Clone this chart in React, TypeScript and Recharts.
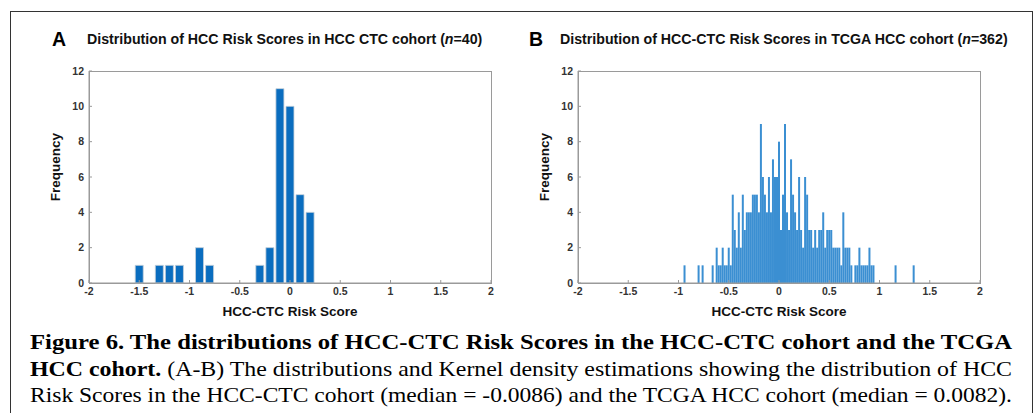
import React from "react";
import { BarChart, Bar, XAxis, YAxis } from "recharts";

const xTicks = [-2, -1.5, -1, -0.5, 0, 0.5, 1, 1.5, 2];
const yTicks = [0, 2, 4, 6, 8, 10, 12];

// A: HCC CTC cohort, bin centres (width 0.1) and counts
const ctcBins = [-1.5, -1.4, -1.3, -1.2, -1.1, -1.0, -0.9, -0.8, -0.7, -0.6, -0.5, -0.4, -0.3, -0.2, -0.1, 0, 0.1, 0.2];
const ctcCounts = [1, 0, 1, 1, 1, 0, 2, 1, 0, 0, 0, 0, 1, 2, 11, 10, 5, 4];

// B: TCGA HCC cohort, bin centres (width 0.02) and counts
const tcgaBins = [
  -0.94, -0.8, -0.76, -0.66,
  -0.62, -0.6, -0.58, -0.56, -0.54, -0.52, -0.5, -0.48, -0.46, -0.44, -0.42, -0.4, -0.38, -0.36, -0.34, -0.32,
  -0.3, -0.28, -0.26, -0.24, -0.22, -0.2, -0.18, -0.16, -0.14, -0.12, -0.1, -0.08, -0.06, -0.04, -0.02,
  0, 0.02, 0.04, 0.06, 0.08, 0.1, 0.12, 0.14, 0.16, 0.18, 0.2, 0.22, 0.24, 0.26, 0.28,
  0.3, 0.32, 0.34, 0.36, 0.38, 0.4, 0.42, 0.44, 0.46, 0.48, 0.5, 0.52, 0.54, 0.56, 0.58,
  0.6, 0.62, 0.64, 0.66, 0.68, 0.7, 0.72, 0.76, 0.78, 0.8, 0.82, 0.84, 0.86, 0.88, 0.9, 0.92, 0.94,
  1.16, 1.34,
];
const tcgaCounts = [
  1, 1, 1, 1,
  2, 1, 1, 2, 1, 1, 2, 1, 5, 3, 2, 4, 2, 5, 3, 4,
  4, 4, 5, 5, 5, 4, 9, 6, 5, 4, 6, 4, 7, 6, 6,
  8, 3, 5, 9, 4, 3, 7, 5, 4, 3, 6, 3, 2, 6, 5,
  3, 3, 2, 3, 2, 3, 3, 4, 2, 3, 3, 3, 2, 2, 2,
  2, 1, 4, 2, 2, 2, 1, 1, 1, 2, 1, 1, 1, 1, 2, 1, 1,
  1, 1,
];

const ctcData = ctcBins.map((x, i) => ({ x, count: ctcCounts[i] }));
const tcgaData = tcgaBins.map((x, i) => ({ x, count: tcgaCounts[i] }));

const sans = "'Liberation Sans', Arial, sans-serif";
const serif = "'Liberation Serif', 'Times New Roman', serif";
const axisColor = "#9a9a9a";
const tickStyle = { fill: "#333", fontSize: 10.5, fontWeight: 700, fontFamily: sans };

// chart geometry (per panel)
const chartW = 470;
const chartH = 260;
const margin = { top: 11, right: 19, bottom: 17, left: 0 };
const yAxisW = 49;
const xAxisH = 20;

type PanelProps = {
  left: number;
  letterX: number;
  titleX: number;
  letter: string;
  title: string;
  n: number;
  data: { x: number; count: number }[];
  barSize: number;
  fill: string;
  stroke?: string;
};

function Panel({ left, letterX, titleX, letter, title, n, data, barSize, fill, stroke }: PanelProps) {
  const top = 60;
  const plotW = chartW - margin.left - margin.right - yAxisW;
  const plotH = chartH - margin.top - margin.bottom - xAxisH;
  return (
    <>
      <div
        style={{
          position: "absolute",
          left: letterX,
          top: 29,
          fontFamily: sans,
          fontWeight: 700,
          fontSize: 19.5,
          lineHeight: "20px",
        }}
      >
        {letter}
      </div>
      <div
        style={{
          position: "absolute",
          left: titleX,
          top: 31,
          fontFamily: sans,
          fontWeight: 700,
          fontSize: 14.2,
          lineHeight: "16px",
          whiteSpace: "nowrap",
          color: "#111",
        }}
      >
        {title} (<i>n</i>={n})
      </div>
      <div
        style={{
          position: "absolute",
          left: left + 15,
          top: 167,
          transform: "translate(-50%, -50%) rotate(-90deg)",
          fontFamily: sans,
          fontWeight: 700,
          fontSize: 13.5,
          color: "#111",
          whiteSpace: "nowrap",
        }}
      >
        Frequency
      </div>
      <div
        style={{
          position: "absolute",
          left: left + 250,
          top: 311,
          transform: "translate(-50%, -50%)",
          fontFamily: sans,
          fontWeight: 700,
          fontSize: 13.5,
          color: "#111",
          whiteSpace: "nowrap",
        }}
      >
        HCC-CTC Risk Score
      </div>
      {/* axes box */}
      <div
        style={{
          position: "absolute",
          left: left + margin.left + yAxisW - 0.5,
          top: top + margin.top - 0.5,
          width: plotW + 1,
          height: plotH + 1,
          border: `1px solid ${axisColor}`,
          boxSizing: "border-box",
        }}
      />
      <div style={{ position: "absolute", left, top }}>
        <BarChart width={chartW} height={chartH} data={data} margin={margin}>
          <XAxis
            dataKey="x"
            type="number"
            domain={[-2, 2]}
            ticks={xTicks}
            interval={0}
            allowDataOverflow
            height={xAxisH}
            tickSize={-3}
            tickMargin={8}
            stroke={axisColor}
            tick={tickStyle}
          />
          <YAxis
            domain={[0, 12]}
            ticks={yTicks}
            interval={0}
            width={yAxisW}
            tickSize={-3}
            tickMargin={8}
            stroke={axisColor}
            tick={tickStyle}
          />
          <Bar
            dataKey="count"
            barSize={barSize}
            fill={fill}
            stroke={stroke}
            strokeWidth={stroke ? 0.8 : 0}
            isAnimationActive={false}
          />
        </BarChart>
      </div>
    </>
  );
}

export default function App() {
  return (
    <div
      style={{
        position: "absolute",
        left: 0,
        top: 0,
        width: 1035,
        height: 413,
        overflow: "hidden",
        background: "#fff",
      }}
    >
      <div
        style={{
          position: "absolute",
          left: 10,
          top: 11,
          width: 1023,
          height: 420,
          border: "1.5px solid #333",
          boxSizing: "border-box",
        }}
      />
      <Panel
        left={40}
        letterX={52}
        titleX={87}
        letter="A"
        title="Distribution of HCC Risk Scores in HCC CTC cohort"
        n={40}
        data={ctcData}
        barSize={8}
        fill="#0a6dbf"
        stroke="#c5d0db"
      />
      <Panel
        left={529}
        letterX={529}
        titleX={560}
        letter="B"
        title="Distribution of HCC-CTC Risk Scores in TCGA HCC cohort"
        n={362}
        data={tcgaData}
        barSize={2}
        fill="#3b8fd2"
      />
      <svg
        width={1035}
        height={93}
        style={{ position: "absolute", left: 0, top: 320 }}
        fontFamily={serif}
        fontSize={22}
        fill="#000"
      >
        <text x={30} y={29} fontWeight={700} textLength={982} lengthAdjust="spacingAndGlyphs">
          Figure 6. The distributions of HCC-CTC Risk Scores in the HCC-CTC cohort and the TCGA
        </text>
        <text x={30} y={55.5} textLength={982} lengthAdjust="spacingAndGlyphs">
          <tspan fontWeight={700}>HCC cohort.</tspan> (A-B) The distributions and Kernel density estimations showing the distribution of HCC
        </text>
        <text x={30} y={81.5} textLength={982} lengthAdjust="spacingAndGlyphs">
          Risk Scores in the HCC-CTC cohort (median = -0.0086) and the TCGA HCC cohort (median = 0.0082).
        </text>
      </svg>
    </div>
  );
}
